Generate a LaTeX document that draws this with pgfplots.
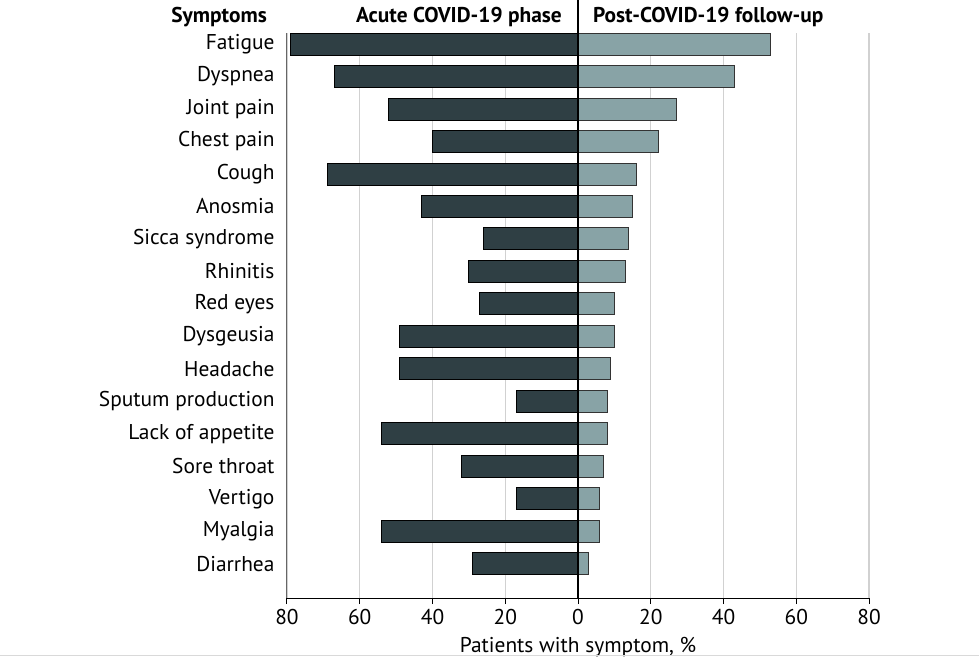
\documentclass[border=0pt]{standalone}
\usepackage{fontspec}
\setmainfont{PT Sans}
\usepackage{pgfplots}
\pgfplotsset{compat=1.18}
\definecolor{acute}{HTML}{2F3F44}
\definecolor{post}{HTML}{88A3A6}
\begin{document}
\begin{tikzpicture}[font=\fontsize{21.4}{24}\selectfont]
\useasboundingbox (-287pt,-61pt) rectangle (692pt,598pt);
\begin{axis}[
 at={(0,0)}, anchor=south west,
 width=582pt, height=565pt, scale only axis,
 xmin=-80, xmax=80, ymin=-1.05, ymax=16.34,
 xbar, bar shift=0pt, bar width=22pt,
 axis x line*=bottom, axis y line*=left,
 x axis line style={-, black, line width=1pt},
 y axis line style={-, black!60, line width=1pt},
 xtick={-80,-60,...,80}, xticklabels={80,60,40,20,0,20,40,60,80},
 xtick align=outside, major tick length=6pt,
 x tick style={black, line width=1pt},
 ytick={0,...,16},
 yticklabels={Diarrhea,Myalgia,Vertigo,Sore throat,Lack of appetite,Sputum production,Headache,Dysgeusia,Red eyes,Rhinitis,Sicca syndrome,Anosmia,Cough,Chest pain,Joint pain,Dyspnea,Fatigue},
 y tick style={draw=none},
 yticklabel style={anchor=east, xshift=-3pt},
 xticklabel style={yshift=-2pt},
 /pgf/number format/assume math mode=true,
 xmajorgrids, grid style={black!18, line width=1.3pt},
 xlabel={Patients with symptom, \%},
 xlabel style={yshift=-5pt},
 clip=false,
]
\addplot[fill=acute, draw=black, line width=1pt] coordinates {
(-79,16) (-67,15) (-52,14) (-40,13) (-69,12) (-43,11) (-26,10) (-30,9) (-27,8)
(-49,7) (-49,6) (-17,5) (-54,4) (-32,3) (-17,2) (-54,1) (-29,0)};
\addplot[fill=post, draw=black!80, line width=1pt] coordinates {
(53,16) (43,15) (27,14) (22,13) (16,12) (15,11) (14,10) (13,9) (10,8)
(10,7) (9,6) (8,5) (8,4) (7,3) (6,2) (6,1) (3,0)};
\end{axis}
\draw[black, line width=1.2pt] (291pt,0pt) -- (291pt,598pt);
\node[inner sep=0pt, anchor=base east, font=\fontsize{21.4}{24}\selectfont\bfseries] at (-20pt,575pt) {Symptoms};
\node[inner sep=0pt, anchor=base east, font=\fontsize{21.4}{24}\selectfont\bfseries] at (275pt,575pt) {Acute COVID-19 phase};
\node[inner sep=0pt, anchor=base west, font=\fontsize{21.4}{24}\selectfont\bfseries] at (306pt,575pt) {Post-COVID-19 follow-up};
\draw[black!15, line width=1pt] (-287pt,-57pt) -- (692pt,-57pt);
\end{tikzpicture}
\end{document}
